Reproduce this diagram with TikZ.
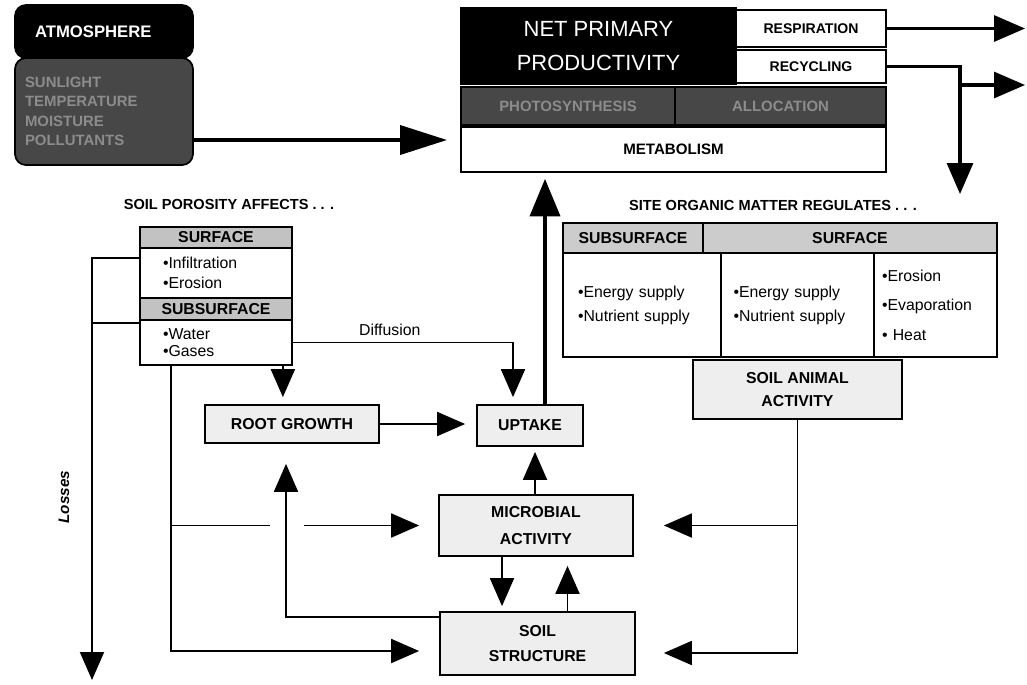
\documentclass[tikz,border=0pt]{standalone}
\usepackage{fontspec}
\setmainfont{Liberation Sans}
\usetikzlibrary{positioning,arrows.meta}

\begin{document}
\begin{tikzpicture}[
        x=0.02cm, y=-0.02cm,
        boxsize/.style 2 args={minimum width=#1*0.02cm, minimum height=#2*0.02cm},
        blk/.style={draw, line width=1pt, inner sep=0pt, align=center},
        darkbox/.style={blk, fill=black, text=white},
        mottled/.style={blk, fill=black!72, text=black!45, font=\bfseries\fontsize{8.5}{11}\selectfont},
        header/.style={blk, fill=gray!48, font=\bfseries\fontsize{9}{11}\selectfont},
        listbox/.style={blk, fill=white, align=left, font=\fontsize{9}{11.4}\selectfont},
        procbox/.style={blk, fill=gray!13, font=\bfseries\fontsize{9}{14}\selectfont},
        title/.style={font=\bfseries\fontsize{8.3}{10}\selectfont},
        plain/.style={line width=1.1pt},
        conn/.style={line width=1.1pt, -{Triangle[length=0.56cm, width=0.48cm]}},
        midarrow/.style={line width=1.8pt, -{Triangle[length=0.62cm, width=0.52cm]}},
        heavy/.style={line width=2.2pt, -{Triangle[length=0.94cm, width=0.58cm]}}
    ]
    \useasboundingbox (0,0) rectangle (1027,684);

    % atmosphere and production
    \node[darkbox, rounded corners=0.22cm, boxsize={178}{53}, align=left, text width=2.76cm, inner xsep=0.4cm, font=\bfseries\fontsize{9.5}{11}\selectfont] (atm) at (104,31.5) {ATMOSPHERE};
    \node[mottled, rounded corners=0.22cm, boxsize={178}{107}, align=left, text width=3.16cm, inner xsep=0.2cm] (atmgas) at (104,111.5) {SUNLIGHT\\TEMPERATURE\\MOISTURE\\POLLUTANTS};

    \node[darkbox, boxsize={275}{76}, font=\fontsize{12.5}{19}\selectfont] (npp) at (598.5,46) {NET PRIMARY\\PRODUCTIVITY};
    \node[blk, boxsize={150}{37}, font=\bfseries\fontsize{8}{10}\selectfont] (resp) at (811,28.5) {RESPIRATION};
    \node[blk, boxsize={150}{33}, font=\bfseries\fontsize{8}{10}\selectfont] (recy) at (811,66.5) {RECYCLING};
    \node[mottled, boxsize={214}{38}] (bandl) at (568,106) {PHOTOSYNTHESIS};
    \node[mottled, boxsize={211}{38}] (bandr) at (780.5,106) {ALLOCATION};
    \node[blk, boxsize={425}{45}, font=\bfseries\fontsize{8.6}{10}\selectfont] (meta) at (673.5,149.5) {METABOLISM};

    % soil porosity
    \node[title] (poro) at (229,204) {SOIL POROSITY AFFECTS . . .};
    \node[header, boxsize={152}{21}] (lsurf) at (216,237.5) {SURFACE};
    \node[listbox, boxsize={152}{50}, text width=2.12cm, inner xsep=0.46cm] (lsurfbody) at (216,273) {•Infiltration\\•Erosion};
    \node[header, boxsize={152}{22}] (lsub) at (216,309) {SUBSURFACE};
    \node[listbox, boxsize={152}{45}, text width=2.12cm, inner xsep=0.46cm, font=\fontsize{9}{9.7}\selectfont] (lsubbody) at (216,342.5) {•Water\\•Gases};

    % site organic matter
    \node[title] (site) at (773,205) {SITE ORGANIC MATTER REGULATES . . .};
    \node[header, fill=gray!40, boxsize={140}{30}] (rsub) at (633,238) {SUBSURFACE};
    \node[header, fill=gray!40, boxsize={294}{30}] (rsurf) at (850,238) {SURFACE};
    \node[listbox, boxsize={158}{104}, text width=2.56cm, inner xsep=0.3cm, font=\fontsize{9}{13.7}\selectfont] (rcol1) at (642,305) {•Energy supply\\•Nutrient supply};
    \node[listbox, boxsize={153}{104}, text width=2.56cm, inner xsep=0.25cm, font=\fontsize{9}{13.7}\selectfont] (rcol2) at (797.5,305) {•Energy supply\\•Nutrient supply};
    \node[listbox, boxsize={123}{104}, text width=2.14cm, inner xsep=0.16cm, font=\fontsize{9}{16.8}\selectfont] (rcol3) at (935.5,305) {•Erosion\\•Evaporation\\• Heat};

    % processes
    \node[procbox, boxsize={209}{59}, font=\bfseries\fontsize{9}{13}\selectfont] (animal) at (797.5,389.5) {SOIL ANIMAL\\ACTIVITY};
    \node[procbox, boxsize={174}{38}] (root) at (292,424) {ROOT GROWTH};
    \node[procbox, boxsize={106}{41}] (uptake) at (530,425.5) {UPTAKE};
    \node[procbox, boxsize={194}{61}, font=\bfseries\fontsize{9}{15.4}\selectfont] (microbial) at (536,525.5) {MICROBIAL\\ACTIVITY};
    \node[procbox, boxsize={195}{63}] (structure) at (537.5,643.5) {SOIL\\STRUCTURE};

    \node[rotate=90, font=\bfseries\itshape\fontsize{8.7}{10}\selectfont] (losses) at (64,497) {Losses};

    \coordinate (atmtip) at (447,140);
    \coordinate (resptip) at (1025,28.5);
    \coordinate (recyturn) at (960,85);
    \coordinate (recytip) at (960,194);
    \coordinate (recyout) at (1025,85);
    \coordinate (losstip) at (92,680);
    \coordinate (gapl) at (270,525.5);
    \coordinate (gapr) at (304,525.5);
    \coordinate (innertop) at ([xshift=0.64cm]lsubbody.south west);

    % top flows
    \draw[heavy] (atmgas.east |- atmtip) -- (atmtip);
    \draw[midarrow] (resp.east) -- (resptip);
    \draw[midarrow] (recy.east) -| (recytip);
    \draw[midarrow] (recyturn) -- (recyout);
    \draw[heavy, -{Triangle[length=0.75cm, width=0.6cm]}, shorten >=0.12cm] ([xshift=0.3cm]uptake.north) -- ([xshift=0.3cm]uptake.north |- meta.south);

    % porosity links
    \draw[conn] ([yshift=0.3cm]lsurfbody.west) -| (losstip);
    \draw[plain] ([yshift=0.39cm]lsubbody.west) coordinate (sublink) -- (losstip |- sublink);
    \draw[conn] (innertop) |- ([xshift=-0.4cm, yshift=-0.15cm]structure.west);
    \draw[plain] (innertop |- microbial.west) -- (gapl);
    \draw[conn] (gapr) -- ([xshift=-0.38cm]microbial.west);
    \draw[conn, shorten >=0.14cm] ([xshift=-0.2cm]lsubbody.south east) -- ([xshift=-0.2cm]lsubbody.south east |- root.north);
    \draw[conn, shorten >=0.14cm] (lsubbody.east) -| node[pos=0.22, above, font=\fontsize{9}{10}\selectfont] (difflabel) {Diffusion} ([xshift=-0.34cm]uptake.north);

    % process links
    \draw[conn, shorten >=0.22cm] (root.east) -- (root.east -| uptake.west);
    \draw[conn] ([yshift=-0.12cm]structure.north west) -| ([xshift=-0.12cm, yshift=-0.4cm]root.south);
    \draw[conn, shorten >=0.1cm] ([xshift=0.1cm]uptake.south |- microbial.north) -- ([xshift=0.1cm]uptake.south);
    \draw[conn, shorten >=0.1cm] ([xshift=-0.68cm]microbial.south) -- ([xshift=-0.68cm]microbial.south |- structure.north);
    \draw[conn, shorten >=0.18cm] ([xshift=0.6cm]structure.north) -- ([xshift=0.6cm]structure.north |- microbial.south);
    \draw[conn] (animal.south) |- ([xshift=0.56cm, yshift=-0.19cm]structure.east);
    \draw[conn] (animal.south |- microbial.east) -- ([xshift=0.6cm]microbial.east);
\end{tikzpicture}
\end{document}
